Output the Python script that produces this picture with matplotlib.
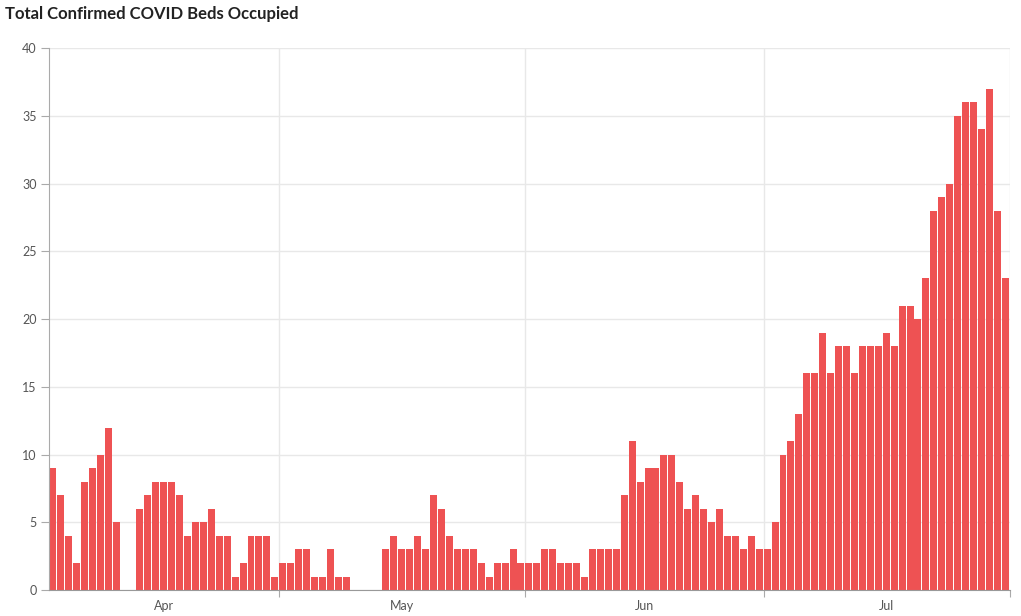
import pandas as pd
import matplotlib.pyplot as plt
import matplotlib.dates as mdates

# beds occupied per day (Apr 2 - Jul 31)
apr_beds = [9, 7, 4, 2, 8, 9, 10, 12, 5, 0, 0, 6, 7, 8, 8, 8, 7, 4, 5, 5,
            6, 4, 4, 1, 2, 4, 4, 4, 1]
may_beds = [2, 2, 3, 3, 1, 1, 3, 1, 1, 0, 0, 0, 0, 3, 4, 3, 3, 4, 3, 7,
            6, 4, 3, 3, 3, 2, 1, 2, 2, 3, 2]
jun_beds = [2, 2, 3, 3, 2, 2, 2, 1, 3, 3, 3, 3, 7, 11, 8, 9, 9, 10, 10, 8,
            6, 7, 6, 5, 6, 4, 4, 3, 4, 3]
jul_beds = [3, 5, 10, 11, 13, 16, 16, 19, 16, 18, 18, 16, 18, 18, 18, 19, 18, 21, 21, 20,
            23, 28, 29, 30, 35, 36, 36, 34, 37, 28, 23]
month_labels = ['Apr', 'May', 'Jun', 'Jul']

beds = apr_beds + may_beds + jun_beds + jul_beds
days = pd.date_range('2020-04-02', periods=len(beds), freq='D')

plt.rcParams['font.family'] = ['Lato', 'DejaVu Sans']

fig = plt.figure(figsize=(10.21, 6.16), dpi=100)
ax = fig.add_axes([0.048, 0.042, 0.941, 0.880])

ax.bar(days, beds, width=0.88, align='edge', color='#ee5253', zorder=2)

start = pd.Timestamp('2020-04-02')
end = pd.Timestamp('2020-08-01')
ax.set_xlim(start, end)
ax.set_ylim(0, 40)
ax.set_yticks(range(0, 41, 5))

# month boundaries -> ticks + vertical grid, labels centred in each month
bounds = [start] + list(pd.date_range('2020-05-01', '2020-08-01', freq='MS'))
ax.set_xticks(bounds[1:])
ax.set_xticklabels([])
mids = [bounds[i] + (bounds[i + 1] - bounds[i]) / 2 for i in range(len(month_labels))]
ax.set_xticks(mids, minor=True)
ax.set_xticklabels(month_labels, minor=True)
ax.tick_params(axis='x', which='minor', length=0, pad=7, labelsize=9, labelcolor='#555555')
ax.tick_params(axis='x', which='major', length=5, color='#aaaaaa')
ax.tick_params(axis='y', length=6, color='#aaaaaa', labelsize=9, labelcolor='#555555', pad=3)

ax.grid(True, which='major', color='#e8e8e8', linewidth=1, zorder=0)
for s in ['top', 'right']:
    ax.spines[s].set_visible(False)
ax.spines['left'].set_color('#aaaaaa')
ax.spines['bottom'].set_color('#999999')

fig.text(0.005, 0.978, 'Total Confirmed COVID Beds Occupied', fontsize=12,
         fontweight='bold', color='#222222', va='center', ha='left')

fig.savefig('out.png', dpi=100)
